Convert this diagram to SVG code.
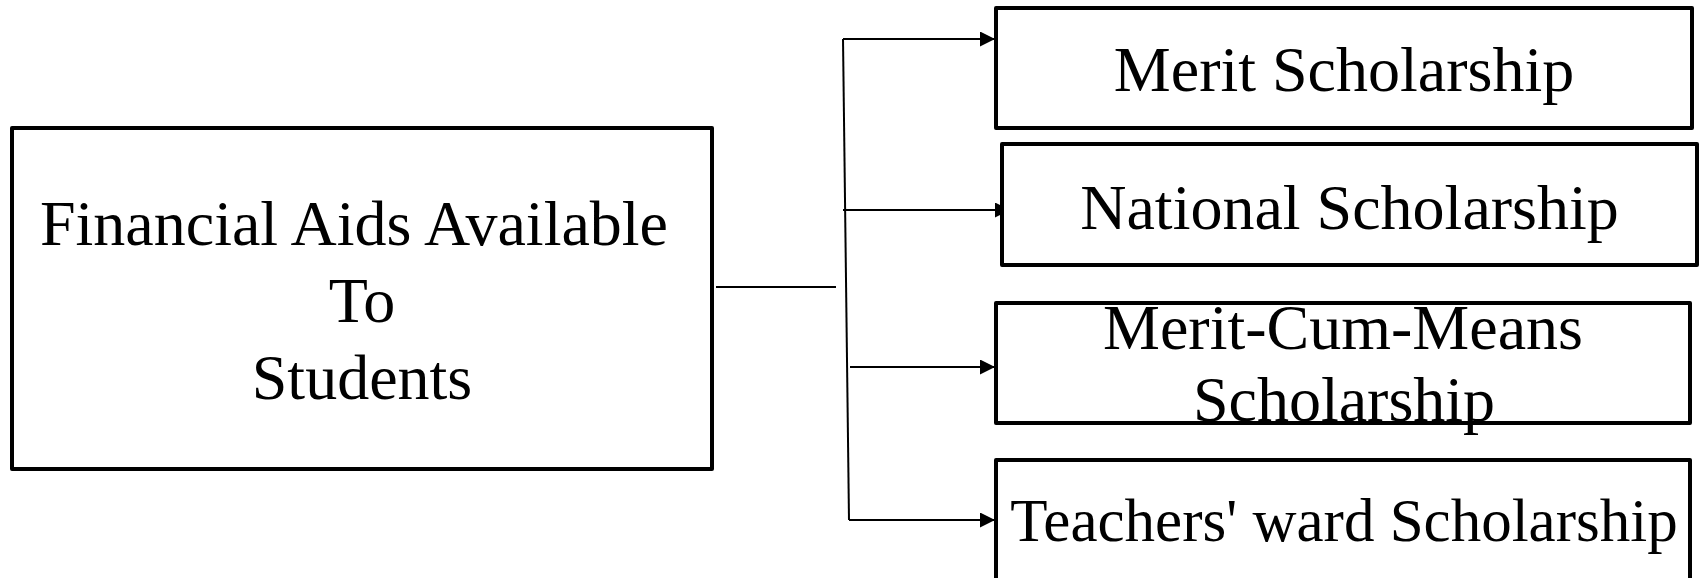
<svg xmlns="http://www.w3.org/2000/svg" width="1701" height="578" viewBox="0 0 1701 578">
<style>
.box{fill:#fff;stroke:#000;stroke-width:4;stroke-linejoin:round}
.lbl{font-family:"Liberation Serif","Times New Roman",serif;font-size:64px;fill:#000;text-anchor:middle}
.con{stroke:#000;stroke-width:2;fill:none}
</style>
<defs>
<marker id="arr" markerUnits="userSpaceOnUse" viewBox="0 0 15 15" refX="15" refY="7.5" markerWidth="15" markerHeight="15" orient="auto">
<path d="M0,0 L15,7.5 L0,15 z" fill="#000"/>
</marker>
</defs>
<rect width="1701" height="578" fill="#fff"/>
<g id="connectors">
<line class="con" x1="716" y1="287" x2="836" y2="287"/>
<line class="con" x1="843" y1="39" x2="849" y2="520"/>
<line class="con" x1="843" y1="39" x2="995" y2="39" marker-end="url(#arr)"/>
<line class="con" x1="843" y1="210" x2="1010" y2="210" marker-end="url(#arr)"/>
<line class="con" x1="850" y1="367" x2="995" y2="367" marker-end="url(#arr)"/>
<line class="con" x1="849" y1="520" x2="995" y2="520" marker-end="url(#arr)"/>
</g>
<g id="financial-aids">
<rect class="box" x="12" y="128" width="700" height="341"/>
<text class="lbl"><tspan x="354" y="245">Financial Aids Available</tspan><tspan x="362" y="322">To</tspan><tspan x="362" y="399">Students</tspan></text>
</g>
<g id="merit">
<rect class="box" x="996" y="8" width="696" height="120"/>
<text class="lbl" x="1344" y="91">Merit Scholarship</text>
</g>
<g id="national">
<rect class="box" x="1002" y="144" width="695" height="121"/>
<text class="lbl" x="1349.5" y="229">National Scholarship</text>
</g>
<g id="merit-cum-means">
<rect class="box" x="996" y="303" width="694" height="120"/>
<text class="lbl"><tspan x="1343" y="349">Merit-Cum-Means</tspan><tspan x="1344" y="421">Scholarship</tspan></text>
</g>
<g id="teachers-ward">
<rect class="box" x="996" y="460" width="694" height="130"/>
<text class="lbl" x="1344" y="541" style="font-size:61px">Teachers' ward Scholarship</text>
</g>
</svg>
